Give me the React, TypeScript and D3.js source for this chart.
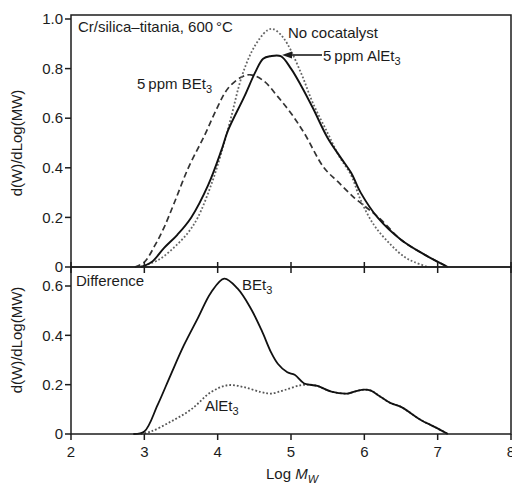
import * as d3 from 'd3'

// top panel series: [log Mw, d(W)/dLog(MW)]
const noCocatalyst: [number, number][] = [
  [2.95, 0], [3.2, 0.03], [3.41, 0.08], [3.6, 0.14], [3.73, 0.2], [3.91, 0.33], [4.05, 0.46],
  [4.18, 0.6], [4.32, 0.76], [4.45, 0.86], [4.57, 0.92], [4.68, 0.955], [4.75, 0.96],
  [4.85, 0.94], [4.95, 0.9], [5.14, 0.78], [5.3, 0.66], [5.5, 0.54], [5.65, 0.45],
  [5.82, 0.37], [5.95, 0.27], [6.13, 0.17], [6.36, 0.09], [6.55, 0.04], [6.68, 0.02], [6.87, 0],
]
const alEt3Top: [number, number][] = [
  [2.95, 0], [3.1, 0.02], [3.27, 0.077], [3.45, 0.13], [3.64, 0.2], [3.87, 0.33], [4.05, 0.47],
  [4.14, 0.55], [4.36, 0.685], [4.52, 0.79], [4.62, 0.84], [4.72, 0.85], [4.86, 0.85],
  [5.0, 0.8], [5.14, 0.73], [5.3, 0.64], [5.5, 0.52], [5.68, 0.44], [5.82, 0.38],
  [5.95, 0.3], [6.18, 0.2], [6.5, 0.11], [6.82, 0.05], [7.14, 0],
]
const bEt3Top: [number, number][] = [
  [2.87, 0], [3.0, 0.02], [3.15, 0.09], [3.27, 0.16], [3.41, 0.26], [3.6, 0.4], [3.82, 0.53],
  [4.0, 0.646], [4.14, 0.72], [4.32, 0.765], [4.45, 0.775], [4.63, 0.75], [4.82, 0.687],
  [5.0, 0.62], [5.18, 0.54], [5.45, 0.4], [5.64, 0.344], [5.86, 0.28], [6.05, 0.235],
  [6.23, 0.19], [6.5, 0.11], [6.82, 0.05], [7.14, 0],
]

// bottom panel: differences
const bEt3Diff: [number, number][] = [
  [2.85, 0], [3.0, 0.01], [3.18, 0.117], [3.36, 0.24], [3.54, 0.36], [3.73, 0.47], [3.91, 0.574],
  [4.09, 0.63], [4.27, 0.59], [4.45, 0.51], [4.6, 0.42], [4.73, 0.33], [4.82, 0.285],
  [4.95, 0.25], [5.05, 0.24], [5.18, 0.205], [5.36, 0.195], [5.55, 0.172], [5.77, 0.164],
  [5.9, 0.175], [6.0, 0.18], [6.09, 0.176], [6.2, 0.155], [6.36, 0.125], [6.5, 0.11],
  [6.77, 0.057], [6.95, 0.03], [7.14, 0],
]
const alEt3Diff: [number, number][] = [
  [2.95, 0], [3.09, 0.01], [3.36, 0.05], [3.64, 0.1], [3.91, 0.17], [4.14, 0.198], [4.36, 0.19],
  [4.59, 0.17], [4.73, 0.164], [4.91, 0.178], [5.14, 0.198], [5.32, 0.198], [5.55, 0.172],
  [5.77, 0.164], [5.9, 0.175], [6.0, 0.18], [6.09, 0.176], [6.2, 0.155], [6.36, 0.125],
  [6.5, 0.11], [6.77, 0.057], [6.95, 0.03], [7.14, 0],
]

const xTicks = [2, 3, 4, 5, 6, 7, 8]
const topYTicks = [0, 0.2, 0.4, 0.6, 0.8, 1.0]
const topYLabels = ['0', '0.2', '0.4', '0.6', '0.8', '1.0']
const bottomYTicks = [0, 0.2, 0.4, 0.6]
const bottomYLabels = ['0', '0.2', '0.4', '0.6']

const ink = '#1c1c1c'
const font = "'Liberation Sans', Arial, sans-serif"

export default function App() {
  const width = 512
  const height = 484
  const left = 71
  const right = 511
  const topY0 = 15
  const midY = 267
  const botY = 434

  const x = d3.scaleLinear().domain([2, 8]).range([left, right])
  const yTop = d3.scaleLinear().domain([0, 1]).range([midY, 19])
  const yBot = d3.scaleLinear().domain([0, 0.6]).range([botY, 286])

  const lineTop = d3
    .line<[number, number]>()
    .x((d) => x(d[0]))
    .y((d) => yTop(d[1]))
    .curve(d3.curveCatmullRom.alpha(0.5))
  const lineBot = d3
    .line<[number, number]>()
    .x((d) => x(d[0]))
    .y((d) => yBot(d[1]))
    .curve(d3.curveCatmullRom.alpha(0.5))

  const fs = 15

  return (
    <svg
      width={width}
      height={height}
      style={{ position: 'absolute', left: 0, top: 0, background: '#fff' }}
      fontFamily={font}
    >
      {/* curves top */}
      <path d={lineTop(bEt3Top) || ''} fill="none" stroke="#333" strokeWidth={1.7} strokeDasharray="6,3.5" />
      <path d={lineTop(noCocatalyst) || ''} fill="none" stroke="#666" strokeWidth={1.8} strokeDasharray="1.8,2" />
      <path d={lineTop(alEt3Top) || ''} fill="none" stroke="#111" strokeWidth={1.9} />

      {/* curves bottom */}
      <path d={lineBot(alEt3Diff) || ''} fill="none" stroke="#555" strokeWidth={1.8} strokeDasharray="1.8,2" />
      <path d={lineBot(bEt3Diff) || ''} fill="none" stroke="#111" strokeWidth={1.8} />

      {/* frames */}
      <rect x={left} y={topY0} width={right - left} height={midY - topY0} fill="none" stroke={ink} strokeWidth={1.5} />
      <rect x={left} y={midY} width={right - left} height={botY - midY} fill="none" stroke={ink} strokeWidth={1.5} />

      {/* x ticks */}
      {xTicks.map((t) => (
        <g key={t}>
          <line x1={x(t)} x2={x(t)} y1={midY - 5} y2={midY + 6} stroke={ink} strokeWidth={1.5} />
          <line x1={x(t)} x2={x(t)} y1={botY} y2={botY + 6} stroke={ink} strokeWidth={1.5} />
          <text x={x(t)} y={457} textAnchor="middle" fontSize={fs} fill={ink}>
            {t}
          </text>
        </g>
      ))}

      {/* y ticks top */}
      {topYTicks.map((t, i) => (
        <g key={'t' + t}>
          <line x1={left - 6} x2={left} y1={yTop(t)} y2={yTop(t)} stroke={ink} strokeWidth={1.5} />
          <text x={left - 8} y={yTop(t)} dy="0.35em" textAnchor="end" fontSize={fs} fill={ink}>
            {topYLabels[i]}
          </text>
        </g>
      ))}
      {/* y ticks bottom */}
      {bottomYTicks.map((t, i) => (
        <g key={'b' + t}>
          <line x1={left - 6} x2={left} y1={yBot(t)} y2={yBot(t)} stroke={ink} strokeWidth={1.5} />
          <text x={left - 8} y={yBot(t)} dy="0.35em" textAnchor="end" fontSize={fs} fill={ink}>
            {bottomYLabels[i]}
          </text>
        </g>
      ))}

      {/* axis titles */}
      <text transform="translate(22,143) rotate(-90)" textAnchor="middle" fontSize={fs} fill={ink}>
        d(W)/dLog(MW)
      </text>
      <text transform="translate(22,340) rotate(-90)" textAnchor="middle" fontSize={fs} fill={ink}>
        d(W)/dLog(MW)
      </text>
      <text x={292} y={479} textAnchor="middle" fontSize={fs} fill={ink}>
        Log <tspan fontStyle="italic">M</tspan>
        <tspan fontStyle="italic" fontSize={11} dy={4}>
          W
        </tspan>
      </text>

      {/* annotations */}
      <text x={78} y={32} fontSize={fs} fill={ink}>
        Cr/silica–titania, 600{'\u2009'}°C
      </text>
      <text x={137} y={89} fontSize={fs} fill={ink}>
        5{'\u2009'}ppm BEt
        <tspan fontSize={11} dy={4}>
          3
        </tspan>
      </text>
      <text x={288} y={38} fontSize={fs} fill={ink}>
        No cocatalyst
      </text>
      <line x1={290} x2={322} y1={55} y2={55} stroke={ink} strokeWidth={1.6} />
      <path d="M282,55 L292,51.5 L292,58.5 Z" fill={ink} />
      <text x={323} y={61} fontSize={fs} fill={ink}>
        5{'\u2009'}ppm AlEt
        <tspan fontSize={11} dy={4}>
          3
        </tspan>
      </text>
      <text x={76} y={286} fontSize={fs} fill={ink}>
        Difference
      </text>
      <text x={242} y={290} fontSize={fs} fill={ink}>
        BEt
        <tspan fontSize={11} dy={4}>
          3
        </tspan>
      </text>
      <text x={205} y={411} fontSize={fs} fill={ink}>
        AlEt
        <tspan fontSize={11} dy={4}>
          3
        </tspan>
      </text>
    </svg>
  )
}
